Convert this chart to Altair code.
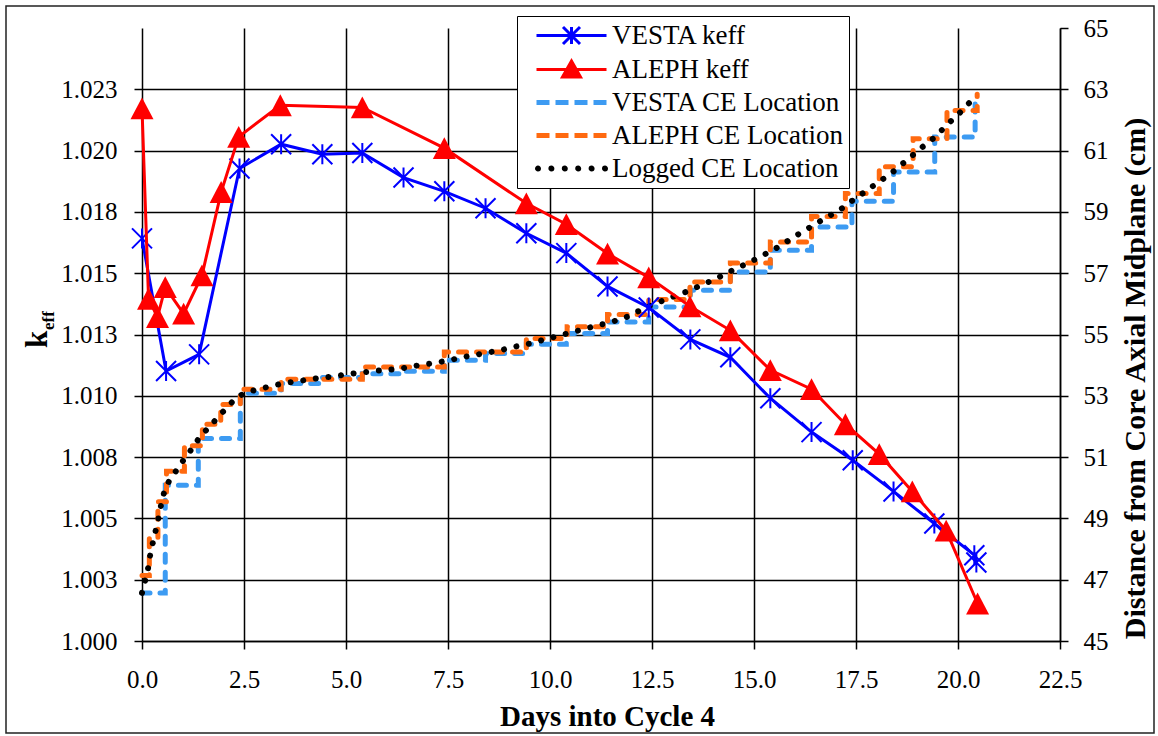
import altair as alt
import pandas as pd

# ---- k_eff results -------------------------------------------------------
vesta_days = [0.00, 0.59, 1.40, 2.39, 3.41, 4.42, 5.40, 6.41, 7.41, 8.42, 9.42, 10.40,
              11.41, 12.42, 13.44, 14.42, 15.40, 16.41, 17.42, 18.42, 19.42, 20.40, 20.45]
vesta_keff = [1.01642, 1.01101, 1.01169, 1.01927, 1.02026, 1.01985, 1.01990, 1.01890,
              1.01834, 1.01765, 1.01663, 1.01582, 1.01446, 1.01360, 1.01230, 1.01157,
              1.00990, 1.00852, 1.00737, 1.00610, 1.00479, 1.00350, 1.00320]

aleph_days = [0.00, 0.16, 0.38, 0.57, 1.02, 1.47, 1.94, 2.37, 3.39, 5.40, 7.41, 9.42, 10.40,
              11.41, 12.42, 13.43, 14.42, 15.40, 16.41, 17.24, 18.07, 18.88, 19.71, 20.48]
aleph_keff = [1.02172, 1.01396, 1.01321, 1.01443, 1.01335, 1.01491, 1.01831, 1.02056,
              1.02185, 1.02176, 1.02010, 1.01785, 1.01700, 1.01580, 1.01483, 1.01365,
              1.01267, 1.01105, 1.01027, 1.00884, 1.00762, 1.00610, 1.00450, 1.00153]

# ---- control element positions (cm) -------------------------------------
vesta_ce_days = [0.00, 0.57, 1.38, 2.41, 3.41, 4.42, 5.40, 6.41, 7.41, 8.42, 9.42, 10.40,
                 11.41, 12.42, 13.44, 14.42, 15.40, 16.41, 17.40, 18.42, 19.43, 20.42]
vesta_ce_cm = [46.57, 50.08, 51.61, 53.08, 53.40, 53.60, 53.72, 53.80, 54.16, 54.38, 54.68,
               55.03, 55.41, 55.90, 56.44, 57.04, 57.75, 58.51, 59.35, 60.30, 61.44, 62.53]

aleph_ce_days = [0.00, 0.18, 0.39, 0.60, 1.04, 1.48, 1.93, 2.41, 3.41, 5.40, 7.41, 9.42,
                 10.42, 11.41, 12.42, 13.43, 14.42, 15.40, 16.41, 17.24, 18.07, 18.90,
                 19.73, 20.47]
aleph_ce_cm = [47.14, 48.34, 49.54, 50.54, 51.37, 52.07, 52.72, 53.21, 53.54, 53.94, 54.43,
               54.87, 55.25, 55.65, 56.14, 56.71, 57.33, 58.02, 58.85, 59.60, 60.47, 61.39,
               62.31, 62.84]

logged_days = [0.00, 0.08, 0.15, 0.20, 0.27, 0.34, 0.41, 0.47, 0.55, 0.68, 0.87, 1.04,
               1.24, 1.41, 1.63, 1.85, 2.07, 2.29, 2.55, 2.86, 3.17, 3.49, 3.80, 4.11,
               4.44, 4.75, 5.06, 5.39, 5.70, 6.03, 6.35, 6.66, 6.97, 7.29, 7.60, 7.91,
               8.23, 8.56, 8.86, 9.17, 9.49, 9.80, 10.11, 10.42, 10.73, 11.04, 11.36,
               11.64, 11.94, 12.25, 12.54, 12.84, 13.14, 13.44, 13.73, 14.03, 14.32,
               14.60, 14.89, 15.17, 15.46, 15.73, 16.06, 16.40, 16.75, 17.11, 17.36,
               17.62, 17.88, 18.14, 18.40, 18.64, 18.89, 19.13, 19.39, 19.62, 19.85,
               20.08, 20.30, 20.43]
logged_cm = [46.57, 46.98, 47.38, 47.80, 48.23, 48.63, 49.05, 49.46, 49.89, 50.27, 50.61,
             50.95, 51.30, 51.64, 51.96, 52.28, 52.60, 52.91, 53.12, 53.21, 53.32, 53.41,
             53.47, 53.54, 53.59, 53.64, 53.71, 53.76, 53.81, 53.85, 53.89, 53.97, 54.03,
             54.10, 54.18, 54.27, 54.35, 54.43, 54.51, 54.61, 54.70, 54.81, 54.92, 55.03,
             55.14, 55.25, 55.36, 55.46, 55.60, 55.82, 55.99, 56.14, 56.30, 56.44, 56.63,
             56.79, 56.99, 57.18, 57.35, 57.55, 57.75, 57.97, 58.25, 58.52, 58.80, 59.07,
             59.32, 59.56, 59.81, 60.05, 60.30, 60.57, 60.85, 61.12, 61.39, 61.69, 61.99,
             62.28, 62.59, 62.75]

# ---- axes ----------------------------------------------------------------
x_ticks = [0.0, 2.5, 5.0, 7.5, 10.0, 12.5, 15.0, 17.5, 20.0, 22.5]
keff_ticks = [1.0, 1.0025, 1.005, 1.0075, 1.01, 1.0125, 1.015, 1.0175, 1.02, 1.0225]
cm_ticks = [45, 47, 49, 51, 53, 55, 57, 59, 61, 63, 65]

SERIES = ["VESTA keff", "ALEPH keff", "VESTA CE Location", "ALEPH CE Location",
          "Logged CE Location"]
COLORS = ["#0000FF", "#FF0000", "#3D9BF2", "#FF6A10", "#000000"]

FONT = "Liberation Serif"
W, H = 918, 613

ASTERISK = "M0,-1L0,1M-1,-1L1,1M-1,1L1,-1"
TRIANGLE = "M-1,0.95L0,-0.95L1,0.95Z"


# legend glyphs (unit = 10 px): a 70 px sample of each line style
def dash_glyph():
    return " ".join(f"M{x0:.2f},-0.1h1v0.2h-1Z" for x0 in (0.15, 2.05, 3.95, 5.85))


def dot_glyph():
    return " ".join(
        f"M{cx - 0.15:.2f},0a0.15,0.15 0 1,0 0.3,0a0.15,0.15 0 1,0 -0.3,0"
        for cx in (0.15, 1.49, 2.83, 4.17, 5.51, 6.85)
    )


LEGEND_GLYPHS = [
    "M0,0L7,0M3.5,-0.85L3.5,0.85M2.65,-0.85L4.35,0.85M2.65,0.85L4.35,-0.85",
    "M0,0L7,0M2.6,0.75L3.5,-0.85L4.4,0.75Z",
    dash_glyph(),
    dash_glyph(),
    dot_glyph(),
]

legend = alt.Legend(
    title=None,
    orient="none",
    legendX=375,
    legendY=-12,
    fillColor="white",
    strokeColor="black",
    padding=6,
    rowPadding=5,
    symbolSize=400,
    symbolStrokeWidth=3,
    symbolFillColor="black",
    symbolStrokeColor="black",
    symbolOpacity=1,
    labelFont=FONT,
    labelFontSize=27,
    labelColor="black",
    labelLimit=600,
    labelOffset=62,
)

# legend-only layer: carries the fill / stroke / shape scales, draws no marks
legend_df = pd.DataFrame({"series": SERIES})
legend_layer = alt.Chart(legend_df).transform_filter("false").mark_point(
    filled=True, opacity=1
).encode(
    fill=alt.Fill("series:N", scale=alt.Scale(domain=SERIES, range=COLORS), legend=legend),
    stroke=alt.Stroke("series:N", scale=alt.Scale(domain=SERIES, range=COLORS), legend=legend),
    shape=alt.Shape("series:N", scale=alt.Scale(domain=SERIES, range=LEGEND_GLYPHS), legend=legend),
)

x_enc = alt.X(
    "day:Q",
    scale=alt.Scale(domain=[0, 22.5], nice=False),
    axis=alt.Axis(
        values=x_ticks,
        format=".1f",
        labelFont=FONT,
        labelFontSize=25,
        labelFlush=False,
        labelOverlap=False,
        title="Days into Cycle 4",
        titleX=465,
        titleY=84,
        titleBaseline="alphabetic",
        titleAlign="center",
        labelPadding=18,
    ),
)

keff_y = alt.Y(
    "value:Q",
    scale=alt.Scale(domain=[1.0, 1.025], nice=False, zero=False),
    axis=alt.Axis(
        orient="left",
        values=keff_ticks,
        labelExpr="format(datum.value + 1e-9, '.3f')",
        labelFont=FONT,
        labelFontSize=25,
        labelFlush=False,
        labelOverlap=False,
        grid=True,
        domain=False,
        title=None,
        labelPadding=17,
    ),
)

cm_y = alt.Y(
    "value:Q",
    scale=alt.Scale(domain=[45, 65], nice=False, zero=False),
    axis=alt.Axis(
        orient="right",
        values=cm_ticks,
        format="d",
        labelFont=FONT,
        labelFontSize=25,
        labelFlush=False,
        labelOverlap=False,
        grid=False,
        domain=True,
        title="Distance from Core Axial Midplane (cm)",
        titleFontSize=30,
        titleAngle=270,
        titleX=75,
        titleY=350,
        titleAlign="center",
        titleBaseline="middle",
        labelPadding=15,
    ),
)


def table(days, values):
    return pd.DataFrame({"day": days, "value": values})


# control element position curves (right axis)
vesta_ce = alt.Chart(table(vesta_ce_days, vesta_ce_cm)).mark_line(
    interpolate="step-after", strokeWidth=5, strokeDash=[8, 10], strokeCap="round",
    color=COLORS[2],
).encode(x=x_enc, y=cm_y)
aleph_ce = alt.Chart(table(aleph_ce_days, aleph_ce_cm)).mark_line(
    interpolate="step-after", strokeWidth=5, strokeDash=[8, 10], strokeCap="round",
    color=COLORS[3],
).encode(x=x_enc, y=cm_y)
logged_ce = alt.Chart(table(logged_days, logged_cm)).mark_line(
    strokeWidth=6, strokeDash=[0.01, 12.7], strokeCap="round", color=COLORS[4],
).encode(x=x_enc, y=cm_y)
ce_layer = alt.layer(vesta_ce, aleph_ce, logged_ce)

# k_eff curves (left axis)
vesta_df = table(vesta_days, vesta_keff)
aleph_df = table(aleph_days, aleph_keff)
vesta_line = alt.Chart(vesta_df).mark_line(strokeWidth=3, color=COLORS[0]).encode(x=x_enc, y=keff_y)
vesta_pts = alt.Chart(vesta_df).mark_point(
    shape=ASTERISK, size=400, filled=False, strokeWidth=2, opacity=1, color=COLORS[0]
).encode(x=x_enc, y=keff_y)
aleph_line = alt.Chart(aleph_df).mark_line(strokeWidth=3, color=COLORS[1]).encode(x=x_enc, y=keff_y)
aleph_pts = alt.Chart(aleph_df).mark_point(
    shape=TRIANGLE, size=529, filled=True, opacity=1, color=COLORS[1]
).encode(x=x_enc, y=keff_y)
keff_layer = alt.layer(vesta_line, vesta_pts, aleph_line, aleph_pts)

# left axis title: k with subscript "eff", reading upwards
one = pd.DataFrame({"t": [0]})
k_main = alt.Chart(one).mark_text(
    text="k", font=FONT, fontSize=31, fontWeight="bold", align="left",
    baseline="alphabetic", angle=270, color="black"
).encode(x=alt.value(-95), y=alt.value(320))
k_sub = alt.Chart(one).mark_text(
    text="eff", font=FONT, fontSize=17, fontWeight="bold", align="left",
    baseline="alphabetic", angle=270, color="black"
).encode(x=alt.value(-88), y=alt.value(302))

# outer chart border
border = alt.Chart(one).mark_rect(
    fill="transparent", stroke="#222222", strokeWidth=1.5
).encode(x=alt.value(-136), x2=alt.value(1012), y=alt.value(-22), y2=alt.value(705))

chart = (
    alt.layer(border, ce_layer, keff_layer, legend_layer, k_main, k_sub)
    .resolve_scale(y="independent")
    .properties(
        width=W,
        height=H,
        autosize="none",
        padding={"left": 142, "top": 28, "right": 1158 - 142 - W, "bottom": 736 - 28 - H},
        background="white",
    )
    .configure(font=FONT)
    .configure_view(stroke=None)
    .configure_axis(
        labelFont=FONT,
        labelFontSize=25,
        labelColor="black",
        titleFont=FONT,
        titleFontSize=29,
        titleFontWeight="bold",
        titleColor="black",
        tickColor="black",
        tickSize=8,
        tickWidth=1.5,
        domainColor="black",
        domainWidth=1.5,
        gridColor="black",
        gridWidth=1.5,
        gridOpacity=1,
    )
)

chart.save("out.html", embed_options={"renderer": "svg", "actions": False})
